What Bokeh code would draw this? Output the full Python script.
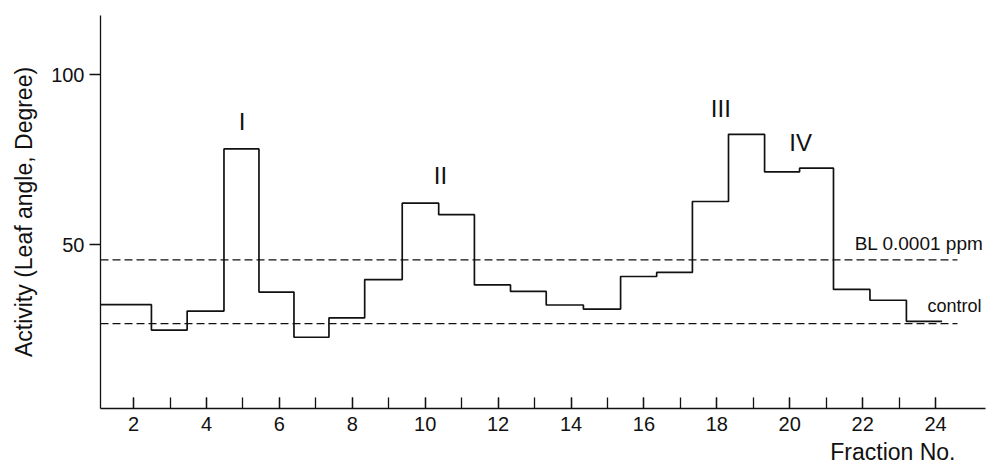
from bokeh.plotting import figure
from bokeh.models import FixedTicker, Label, Range1d, ColumnDataSource, Title
from bokeh.core.properties import value
from bokeh.embed import file_html
from bokeh.resources import INLINE

# ---- data ----
# boundaries (fraction axis) of each plotted step, and the activity of that step
step_bounds = [1.093, 2.49, 3.47, 4.48, 5.44, 6.40, 7.36, 8.34, 9.37, 10.37, 11.35,
               12.34, 13.32, 14.34, 15.36, 16.35, 17.33, 18.32, 19.31, 20.27, 21.20,
               22.20, 23.20, 24.18]
activity = [32.3, 24.8, 30.4, 78.2, 36.0, 22.7, 28.4, 39.7, 62.2, 58.8, 38.1,
            36.2, 32.2, 31.0, 40.6, 41.8, 62.7, 82.5, 71.4, 72.5, 36.8, 33.6, 27.4]

ref_levels = [45.5, 26.7]          # BL 0.0001 ppm, control
ref_names = ["BL 0.0001 ppm", "control"]
ref_end = 24.6

peak_names = ["I", "II", "III", "IV"]
peak_x = [4.98, 10.42, 18.11, 20.30]
peak_y = [86.3, 70.3, 90.1, 80.1]

x_major = [2, 4, 6, 8, 10, 12, 14, 16, 18, 20, 22, 24]
x_minor = list(range(2, 25))
y_major = [50, 100]

FONT = "Liberation Sans"
INK = "#111111"

p = figure(width=989, height=468,
           x_range=Range1d(1.093, 25.37), y_range=Range1d(1.7, 117.5),
           output_backend="svg", toolbar_location=None,
           min_border_left=100, min_border_right=4, min_border_top=15, min_border_bottom=60)
p.outline_line_color = None
p.xgrid.visible = False
p.ygrid.visible = False
p.background_fill_color = "white"
p.border_fill_color = "white"

# step trace
xs, ys = [], []
for i, a in enumerate(activity):
    xs += [step_bounds[i], step_bounds[i + 1]]
    ys += [a, a]
p.line(xs, ys, line_color=INK, line_width=1.7)

# reference dashed lines
p.segment(x0=[step_bounds[0]] * len(ref_levels), y0=ref_levels,
          x1=[ref_end] * len(ref_levels), y1=ref_levels,
          line_color=INK, line_width=1.3, line_dash="8 4")

# reference labels
p.add_layout(Label(x=21.78, y=ref_levels[0] + 4.8, text=ref_names[0],
                   text_font=FONT, text_font_size="19px", text_color=INK,
                   text_align="left", text_baseline="middle"))
p.add_layout(Label(x=23.78, y=ref_levels[1] + 5.3, text=ref_names[1],
                   text_font=FONT, text_font_size="18px", text_color=INK,
                   text_align="left", text_baseline="middle"))

# peak labels
src = ColumnDataSource(dict(x=peak_x, y=peak_y, t=peak_names))
p.text(x="x", y="y", text="t", source=src, text_font=value(FONT),
       text_font_size="24px", text_align="center", text_baseline="middle",
       text_color=INK)

# x axis
xa = p.xaxis[0]
xa.ticker = FixedTicker(ticks=x_major, minor_ticks=x_minor)
xa.major_tick_in = 11
xa.major_tick_out = 0
xa.minor_tick_in = 11
xa.minor_tick_out = 0
xa.major_label_standoff = 8
xa.major_label_text_font = FONT
xa.major_label_text_font_size = "20px"
xa.major_label_text_color = INK
xa.axis_line_color = INK
xa.axis_line_width = 1.3
xa.major_tick_line_color = INK
xa.minor_tick_line_color = INK
xa.major_tick_line_width = 1.3
xa.minor_tick_line_width = 1.3

# y axis
ya = p.yaxis[0]
ya.ticker = FixedTicker(ticks=y_major, minor_ticks=[])
ya.major_tick_in = 0
ya.major_tick_out = 11
ya.major_label_standoff = 5
ya.major_label_text_font = FONT
ya.major_label_text_font_size = "20px"
ya.major_label_text_color = INK
ya.axis_line_color = INK
ya.axis_line_width = 1.3
ya.major_tick_line_color = INK
ya.major_tick_line_width = 1.3
ya.axis_label = "Activity (Leaf angle, Degree)"
ya.axis_label_text_font = FONT
ya.axis_label_text_font_size = "23px"
ya.axis_label_text_font_style = "normal"
ya.axis_label_text_color = INK
ya.axis_label_standoff = 11

# x axis title, right-aligned under the axis
p.add_layout(Title(text="Fraction No.", align="right", offset=30, standoff=7,
                   text_font=FONT, text_font_size="23px", text_font_style="normal",
                   text_color=INK), "below")

open("out.html", "w").write(file_html(p, INLINE))
